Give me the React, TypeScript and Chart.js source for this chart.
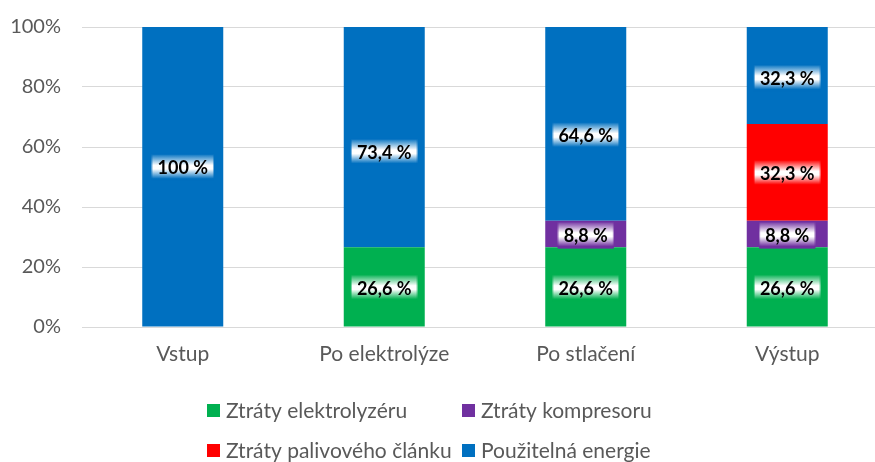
import React, { useEffect, useRef } from "react";
import { Chart, registerables } from "chart.js";

Chart.register(...registerables);

const categories = ["Vstup", "Po elektrolýze", "Po stlačení", "Výstup"];
const seriesNames = [
  "Ztráty elektrolyzéru",
  "Ztráty kompresoru",
  "Ztráty palivového článku",
  "Použitelná energie",
];
const ztratyElektrolyzeru = [0, 26.6, 26.6, 26.6];
const ztratyKompresoru = [0, 0, 8.8, 8.8];
const ztratyClanku = [0, 0, 0, 32.3];
const pouzitelnaEnergie = [100, 73.4, 64.6, 32.3];
const yTickValues = [0, 20, 40, 60, 80, 100];
// where the labels of the "Použitelná energie" series were placed (in %)
const energieLabelAt = [53.2, 58.3, 63.8, 83.0];

const COLORS = ["#00B050", "#7030A0", "#FF0000", "#0070C0"];
const FONT = "Lato, 'Open Sans', sans-serif";
const TEXT_GRAY = "#595959";

const fmt = (v: number) => String(v).replace(".", ",") + " %";

const labelPlugin = {
  id: "boxLabels",
  afterDatasetsDraw(chart: any) {
    const ctx = chart.ctx;
    const yScale = chart.scales.y;
    ctx.save();
    ctx.font = `bold 18px ${FONT}`;
    ctx.textAlign = "center";
    ctx.textBaseline = "middle";
    chart.data.datasets.forEach((ds: any, di: number) => {
      const meta = chart.getDatasetMeta(di);
      meta.data.forEach((el: any, i: number) => {
        const v = ds.data[i];
        if (!v) return;
        let cy = (el.y + el.base) / 2 + 1;
        if (di === 3) cy = yScale.getPixelForValue(energieLabelAt[i]);
        const text = fmt(v);
        const tw = ctx.measureText(text).width;
        const w = tw + 12;
        const h = 27;
        const left = el.x - w / 2;
        const top = cy - h / 2;
        const color = COLORS[di];
        const g = ctx.createLinearGradient(0, top, 0, top + h);
        g.addColorStop(0, color);
        g.addColorStop(0.42, "#ffffff");
        g.addColorStop(0.56, "#ffffff");
        g.addColorStop(0.92, color);
        g.addColorStop(1, color);
        ctx.fillStyle = g;
        ctx.fillRect(left, top, w, h);
        ctx.globalAlpha = 0.55;
        ctx.strokeStyle = color;
        ctx.lineWidth = 1;
        ctx.strokeRect(left + 0.5, top + 0.5, w - 1, h - 1);
        ctx.globalAlpha = 1;
        ctx.fillStyle = "#000000";
        ctx.fillText(text, el.x, cy + 1);
      });
    });
    ctx.restore();
  },
};

const legendPlugin = {
  id: "gridLegend",
  afterDraw(chart: any) {
    const ctx = chart.ctx;
    const colX = [207, 462];
    const rowY = [410, 450];
    ctx.save();
    ctx.font = `21px ${FONT}`;
    ctx.textAlign = "left";
    ctx.textBaseline = "middle";
    chart.data.datasets.forEach((ds: any, i: number) => {
      const x = colX[i % 2];
      const y = rowY[Math.floor(i / 2)];
      ctx.fillStyle = ds.backgroundColor;
      ctx.fillRect(x, y - 6, 13, 13);
      ctx.fillStyle = TEXT_GRAY;
      ctx.fillText(ds.label, x + 19, y + 1);
    });
    ctx.restore();
  },
};

export default function App() {
  const ref = useRef<HTMLCanvasElement | null>(null);
  useEffect(() => {
    if (!ref.current) return;
    const series = [ztratyElektrolyzeru, ztratyKompresoru, ztratyClanku, pouzitelnaEnergie];
    const chart = new Chart(ref.current, {
      type: "bar",
      data: {
        labels: categories,
        datasets: series.map((d, i) => ({
          label: seriesNames[i],
          data: d,
          backgroundColor: COLORS[i],
          borderWidth: 0,
          barPercentage: 1,
          categoryPercentage: 0.402,
        })),
      },
      options: {
        animation: false,
        responsive: false,
        devicePixelRatio: 1,
        layout: { padding: { top: 27, right: 12, left: 0, bottom: 0 } },
        plugins: {
          legend: { display: false },
          tooltip: { enabled: false },
        },
        scales: {
          x: {
            stacked: true,
            grid: { display: false, drawTicks: false },
            border: { display: false },
            ticks: {
              color: TEXT_GRAY,
              font: { family: FONT, size: 21 },
              padding: 15,
              maxRotation: 0,
            },
            afterFit: (s: any) => {
              s.height = 135;
              s.paddingLeft = 0;
              s.paddingRight = 0;
            },
          },
          y: {
            stacked: true,
            min: 0,
            max: 100,
            afterBuildTicks: (s: any) => {
              s.ticks = yTickValues.map((v) => ({ value: v }));
            },
            grid: { color: "#D9D9D9", lineWidth: 1, drawTicks: false },
            border: { display: false },
            ticks: {
              color: TEXT_GRAY,
              font: { family: FONT, size: 20 },
              padding: 21,
              callback: (v: any) => v + "%",
            },
            afterFit: (s: any) => {
              s.width = 82;
              s.paddingTop = 0;
              s.paddingBottom = 0;
            },
          },
        },
      },
      plugins: [labelPlugin, legendPlugin],
    });
    return () => chart.destroy();
  }, []);
  return (
    <div
      style={{
        position: "fixed",
        left: 0,
        top: 0,
        width: 875,
        height: 462,
        overflow: "hidden",
        background: "#ffffff",
      }}
    >
      <canvas ref={ref} width={900} height={462} style={{ display: "block" }} />
    </div>
  );
}
